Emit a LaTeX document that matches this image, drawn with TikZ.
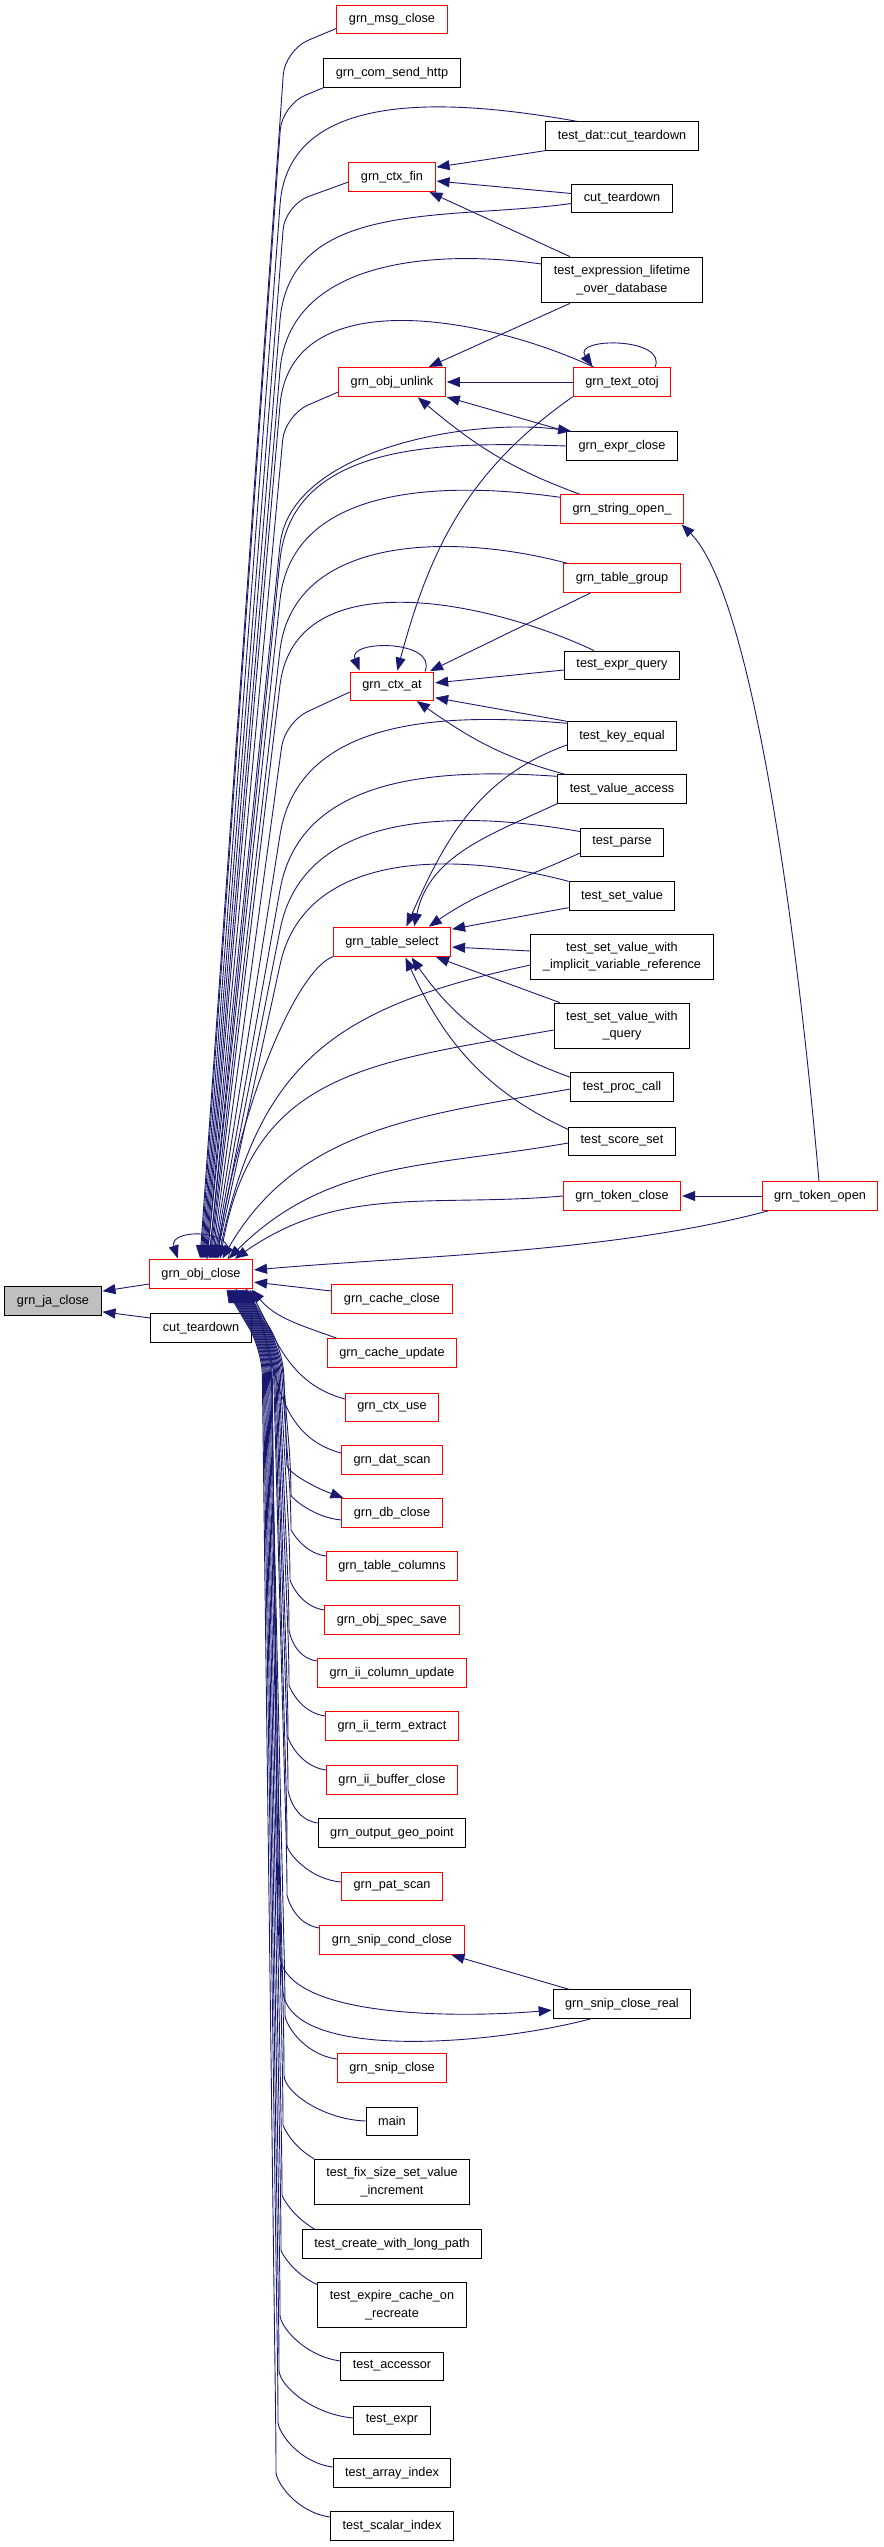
\documentclass[tikz,border=0pt]{standalone}
\usepackage{fontspec}
\setmainfont{Liberation Sans}
\usetikzlibrary{arrows.meta}
\definecolor{edgeblue}{RGB}{25,25,112}
\definecolor{boxred}{RGB}{255,0,0}
\definecolor{boxgrey}{RGB}{191,191,191}
\begin{document}
\begin{tikzpicture}[x=1pt,y=1pt,shorten >=1pt,->,>={Triangle[length=13pt,width=10pt]}]
        \tikzstyle{fn}=[draw=black,line width=1pt,fill=white,font=\fontsize{12.7}{17.4}\selectfont,inner xsep=12pt,inner ysep=8.3pt,minimum height=28pt,align=center]
        \tikzstyle{fnred}=[fn,draw=boxred]
        \tikzstyle{fnself}=[fn,fill=boxgrey]
        \tikzstyle{edge}=[draw=edgeblue,line width=0.9pt]
        \tikzstyle{fan}=[edge,rounded corners=25pt]
        \useasboundingbox (0,0) rectangle (883,-2547);
       \begin{scope}
         % left columns
         \node [fnself] (ja) at (53,-1301) {grn\_ja\_close};
         \node [fnred] (objclose) at (201,-1274) {grn\_obj\_close};
         \node [fn] (cuttd) at (201,-1328) {cut\_teardown};
         % middle column
         \node [fnred] (msgclose) at (392,-19.7) {grn\_msg\_close};
         \node [fn] (comsend) at (392,-73) {grn\_com\_send\_http};
         \node [fnred] (ctxfin) at (392,-177) {grn\_ctx\_fin};
         \node [fnred] (unlink) at (392,-382) {grn\_obj\_unlink};
         \node [fnred] (ctxat) at (392,-686) {grn\_ctx\_at};
         \node [fnred] (tselect) at (392,-942) {grn\_table\_select};
         \node [fnred] (cacheclose) at (392,-1299) {grn\_cache\_close};
         \node [fnred] (cacheupdate) at (392,-1353) {grn\_cache\_update};
         \node [fnred] (ctxuse) at (392,-1407) {grn\_ctx\_use};
         \node [fnred] (datscan) at (392,-1460) {grn\_dat\_scan};
         \node [fnred] (dbclose) at (392,-1513) {grn\_db\_close};
         \node [fnred] (tcolumns) at (392,-1566) {grn\_table\_columns};
         \node [fnred] (specsave) at (392,-1620) {grn\_obj\_spec\_save};
         \node [fnred] (iicolupd) at (392,-1673) {grn\_ii\_column\_update};
         \node [fnred] (iiterm) at (392,-1726) {grn\_ii\_term\_extract};
         \node [fnred] (iibuffer) at (392,-1780) {grn\_ii\_buffer\_close};
         \node [fn] (geopoint) at (392,-1833) {grn\_output\_geo\_point};
         \node [fnred] (patscan) at (392,-1886) {grn\_pat\_scan};
         \node [fnred] (snipcond) at (392,-1940) {grn\_snip\_cond\_close};
         \node [fnred] (snipclose) at (392,-2068) {grn\_snip\_close};
         \node [fn] (main) at (392,-2121) {main};
         \node [fn] (fixsize) at (392,-2182) {test\_fix\_size\_set\_value\\\_increment};
         \node [fn] (longpath) at (392,-2244) {test\_create\_with\_long\_path};
         \node [fn] (expire) at (392,-2305) {test\_expire\_cache\_on\\\_recreate};
         \node [fn] (accessor) at (392,-2366) {test\_accessor};
         \node [fn] (texpr) at (392,-2420) {test\_expr};
         \node [fn] (arrayidx) at (392,-2473) {test\_array\_index};
         \node [fn] (scalaridx) at (392,-2526) {test\_scalar\_index};
         % right column
         \node [fn] (dattd) at (622,-136) {test\_dat::cut\_teardown};
         \node [fn] (cuttdtop) at (622,-198.5) {cut\_teardown};
         \node [fn] (exprlife) at (622,-280) {test\_expression\_lifetime\\\_over\_database};
         \node [fnred] (otoj) at (622,-382) {grn\_text\_otoj};
         \node [fn] (exprclose) at (622,-446) {grn\_expr\_close};
         \node [fnred] (stropen) at (622,-509) {grn\_string\_open\_};
         \node [fnred] (tgroup) at (622,-578) {grn\_table\_group};
         \node [fn] (exprquery) at (622,-665) {test\_expr\_query};
         \node [fn] (keyequal) at (622,-736) {test\_key\_equal};
         \node [fn] (valaccess) at (622,-789) {test\_value\_access};
         \node [fn] (parse) at (622,-842) {test\_parse};
         \node [fn] (setvalue) at (622,-896) {test\_set\_value};
         \node [fn] (setimplicit) at (622,-957) {test\_set\_value\_with\\\_implicit\_variable\_reference};
         \node [fn] (setquery) at (622,-1026) {test\_set\_value\_with\\\_query};
         \node [fn] (proccall) at (622,-1087) {test\_proc\_call};
         \node [fn] (scoreset) at (622,-1141) {test\_score\_set};
         \node [fnred] (tokclose) at (622,-1196) {grn\_token\_close};
         \node [fn] (sniprealn) at (622,-2004) {grn\_snip\_close\_real};
         \node [fnred] (tokopen) at (820,-1196) {grn\_token\_open};

         % into grn_ja_close
         \draw[edge] ([yshift=-10pt]objclose.west) -- ([yshift=-5pt]ja.north east);
         \draw[edge] ([yshift=10pt]cuttd.west) -- ([yshift=4pt]ja.south east);
         \draw[edge] ([xshift=27pt]objclose.north) .. controls (240,-1228) and (168,-1228) .. ([xshift=-23pt]objclose.north);

         % callers above grn_obj_close
         \draw[fan] ([yshift=6pt]msgclose.south west) -- (285,-50) -- ([xshift=-1pt]objclose.north);
         \draw[fan] (comsend.south west) -- (282,-105) -- (objclose.north);
         \draw[fan] ([yshift=-5pt]ctxfin.west) -- (285,-205) -- ([xshift=2pt]objclose.north);
         \draw[fan] ([yshift=-10pt]unlink.west) -- (285,-415) -- ([xshift=6pt]objclose.north);
         \draw[fan] ([yshift=-6pt]ctxat.west) -- (285,-722) -- ([xshift=11pt]objclose.north);
         \draw[edge] (tselect.south west) to[out=200,in=82,out distance=40pt,in distance=150pt] ([xshift=16pt]objclose.north);
         \draw[edge] ([xshift=-45pt]dattd.north) to[out=170,in=86] (280,-205) -- ([xshift=1pt]objclose.north);
         \draw[edge] ([yshift=-5pt]cuttdtop.west) to[out=188,in=85] (280,-320) -- ([xshift=3pt]objclose.north);
         \draw[edge] ([yshift=16pt]exprlife.west) to[out=172,in=85] (280,-370) -- ([xshift=4pt]objclose.north);
         \draw[edge] ([xshift=-28pt]otoj.north) to[out=155,in=85] (280,-405) -- ([xshift=5pt]objclose.north);
         \draw[edge] (exprclose.west) to[out=178,in=84] (280,-560) -- ([xshift=8pt]objclose.north);
         \draw[edge] ([xshift=6pt]objclose.north) -- (280,-545) to[out=84,in=172,looseness=0.8] ([xshift=6pt]exprclose.north west);
         \draw[edge] ([yshift=-3pt]stropen.north west) to[out=172,in=84] (280,-600) -- ([xshift=8pt]objclose.north);
         \draw[edge] ([xshift=4pt]tgroup.north west) to[out=165,in=83] (280,-650) -- ([xshift=9pt]objclose.north);
         \draw[edge] ([xshift=-28pt]exprquery.north) to[out=155,in=83] (280,-685) -- ([xshift=10pt]objclose.north);
         \draw[edge] ([yshift=-2pt]keyequal.north west) to[out=175,in=81] (280,-835) -- ([xshift=12pt]objclose.north);
         \draw[edge] ([yshift=-2pt]valaccess.north west) to[out=176,in=80] (280,-890) -- ([xshift=13pt]objclose.north);
         \draw[edge] ([yshift=-4pt]parse.north west) to[out=170,in=79] (280,-930) -- ([xshift=14pt]objclose.north);
         \draw[edge] (setvalue.north west) to[out=165,in=78] (280,-965) -- ([xshift=15pt]objclose.north);
         \draw[edge] ([yshift=-8pt]setimplicit.west) to[out=192,in=78,looseness=1.2] ([xshift=17pt]objclose.north);
         \draw[edge] ([yshift=-4pt]setquery.west) to[out=190,in=80,looseness=1.2] ([xshift=19pt]objclose.north);
         \draw[edge] ([yshift=-2pt]proccall.west) to[out=190,in=60] ([xshift=21pt]objclose.north);
         \draw[edge] ([yshift=-2pt]scoreset.west) to[out=190,in=45] ([xshift=27pt]objclose.north);
         \draw[edge] (tokclose.west) to[out=185,in=35] ([xshift=33pt]objclose.north);
         \draw[edge] ([xshift=7pt]tokopen.south west) to[out=195,in=5,looseness=0.8] ([yshift=4pt]objclose.east);

         % grn_ctx_fin and grn_obj_unlink
         \draw[edge] (dattd.south west) -- ([yshift=-5pt]ctxfin.north east);
         \draw[edge] ([yshift=5pt]cuttdtop.west) -- ([yshift=-4pt]ctxfin.east);
         \draw[edge] ([xshift=-52pt]exprlife.north) -- ([xshift=-7pt]ctxfin.south east);
         \draw[edge] ([xshift=-52pt]exprlife.south) -- ([xshift=36pt]unlink.north);
         \draw[edge] (otoj.west) -- (unlink.east);
         \draw[edge] (exprclose.north west) -- (unlink.south east);
         \draw[edge] ([xshift=-42pt]stropen.north) to[out=160,in=-40] ([xshift=25pt]unlink.south);
         \draw[edge] ([xshift=33pt]otoj.north) .. controls (668,-337) and (572,-337) .. ([xshift=-29pt]otoj.north);
         \draw[edge] (otoj.south west) to[out=215,in=75] ([xshift=5pt]ctxat.north);
         \draw[edge] ([xshift=-1pt]tokopen.north) to[out=95,in=-45,out distance=260pt,in distance=100pt] ([xshift=-3pt]stropen.south east);

         % grn_ctx_at
         \draw[edge] ([xshift=33pt]ctxat.north) .. controls (438,-639.4) and (347,-639.4) .. ([xshift=-32pt]ctxat.north);
         \draw[edge] ([xshift=-31pt]tgroup.south) -- ([xshift=-5pt]ctxat.north east);
         \draw[edge] ([yshift=-5pt]exprquery.west) -- ([yshift=3pt]ctxat.east);
         \draw[edge] (keyequal.north west) -- ([yshift=3pt]ctxat.south east);
         \draw[edge] ([xshift=8pt]valaccess.north west) to[out=165,in=-35] ([xshift=24pt]ctxat.south);

         % grn_table_select
         \draw[edge] ([yshift=-9pt]keyequal.west) to[out=200,in=66] ([xshift=14pt]tselect.north);
         \draw[edge] (valaccess.south west) to[out=205,in=78] ([xshift=22pt]tselect.north);
         \draw[edge] ([yshift=-11pt]parse.west) to[out=205,in=35] ([xshift=36pt]tselect.north);
         \draw[edge] ([yshift=3pt]setvalue.south west) -- ([yshift=-2pt]tselect.north east);
         \draw[edge] ([yshift=6pt]setimplicit.west) -- ([yshift=-5pt]tselect.east);
         \draw[edge] ([xshift=6pt]setquery.north west) -- ([xshift=-16pt]tselect.south east);
         \draw[edge] ([yshift=-5pt]proccall.north west) to[out=160,in=-55] ([xshift=19pt]tselect.south);
         \draw[edge] ([yshift=-3pt]scoreset.north west) to[out=155,in=-65] ([xshift=13pt]tselect.south);
         \draw[edge] (tokopen.west) -- (tokclose.east);

         % callers below grn_obj_close
         \draw[edge] ([yshift=8pt]cacheclose.west) -- ([yshift=-8pt]objclose.east);
         \draw[edge] ([xshift=10pt]cacheupdate.north west) to[out=160,in=-50] ([xshift=50pt]objclose.south);
         \draw[edge] ([yshift=8pt]ctxuse.west) to[out=165,in=-62] ([xshift=48pt]objclose.south);
         \draw[edge] ([yshift=7pt]datscan.west) to[out=165,in=-65] ([xshift=46pt]objclose.south);
         \draw[fan] ([yshift=-7pt]dbclose.west) to[out=175,in=-90] (291,-1470) -- (281,-1350) -- ([xshift=44pt]objclose.south);
         \draw[fan] ([xshift=45pt]objclose.south) -- (283,-1350) -- (286,-1440) to[out=-88,in=160] ([xshift=3pt]dbclose.north west);
         \draw[fan] ([yshift=10pt]tcolumns.west) to[out=172,in=-90] (291,-1505) -- (280,-1350) -- ([xshift=43pt]objclose.south);
         \draw[fan] ([yshift=10pt]specsave.west) to[out=172,in=-90] (290,-1555) -- (279,-1350) -- ([xshift=42pt]objclose.south);
         \draw[fan] ([yshift=12pt]iicolupd.west) to[out=172,in=-90] (289,-1605) -- (278,-1350) -- ([xshift=41pt]objclose.south);
         \draw[fan] ([yshift=10pt]iiterm.west) to[out=172,in=-90] (289,-1660) -- (277,-1350) -- ([xshift=40pt]objclose.south);
         \draw[fan] ([yshift=10pt]iibuffer.west) to[out=172,in=-90] (288,-1712) -- (276,-1350) -- ([xshift=39pt]objclose.south);
         \draw[fan] ([yshift=10pt]geopoint.west) to[out=172,in=-90] (288,-1765) -- (275,-1350) -- ([xshift=38pt]objclose.south);
         \draw[fan] ([yshift=4pt]patscan.west) to[out=175,in=-90] (287,-1820) -- (274,-1350) -- ([xshift=37pt]objclose.south);
         \draw[fan] ([yshift=12pt]snipcond.west) to[out=172,in=-90] (287,-1870) -- (273,-1350) -- ([xshift=36pt]objclose.south);
         \draw[fan] ([xshift=35pt]objclose.south) -- (272,-1350) -- (278,-1930) to[out=-86,in=185,looseness=0.8] ([yshift=-6pt]sniprealn.west);
         \draw[fan] ([xshift=-31pt]sniprealn.south) to[out=195,in=-86,looseness=0.8] (281,-1965) -- (271,-1350) -- ([xshift=34pt]objclose.south);
         \draw[edge] ([xshift=-53pt]sniprealn.north) -- ([xshift=-14pt]snipcond.south east);
         \draw[fan] ([yshift=9pt]snipclose.west) to[out=172,in=-90] (285,-1990) -- (270,-1350) -- ([xshift=33pt]objclose.south);
         \draw[fan] (main.west) to[out=178,in=-90] (284,-2050) -- (269,-1350) -- ([xshift=32pt]objclose.south);
         \draw[fan] (fixsize.north west) to[out=150,in=-90] (283,-2100) -- (268,-1350) -- ([xshift=31pt]objclose.south);
         \draw[fan] ([xshift=13pt]longpath.north west) to[out=150,in=-90] (282,-2170) -- (267,-1350) -- ([xshift=30pt]objclose.south);
         \draw[fan] ([yshift=-3pt]expire.north west) to[out=155,in=-90] (281,-2225) -- (266,-1350) -- ([xshift=29pt]objclose.south);
         \draw[fan] ([yshift=5pt]accessor.west) to[out=172,in=-90] (280,-2290) -- (265,-1350) -- ([xshift=28pt]objclose.south);
         \draw[fan] ([yshift=2pt]texpr.west) to[out=175,in=-90] (279,-2345) -- (264,-1350) -- ([xshift=27pt]objclose.south);
         \draw[fan] ([yshift=6pt]arrayidx.west) to[out=172,in=-90] (278,-2397) -- (263,-1350) -- ([xshift=26pt]objclose.south);
         \draw[fan] ([yshift=9pt]scalaridx.west) to[out=172,in=-90] (276,-2447) -- (262,-1350) -- ([xshift=25pt]objclose.south);
        \end{scope}
      \end{tikzpicture}
\end{document}
